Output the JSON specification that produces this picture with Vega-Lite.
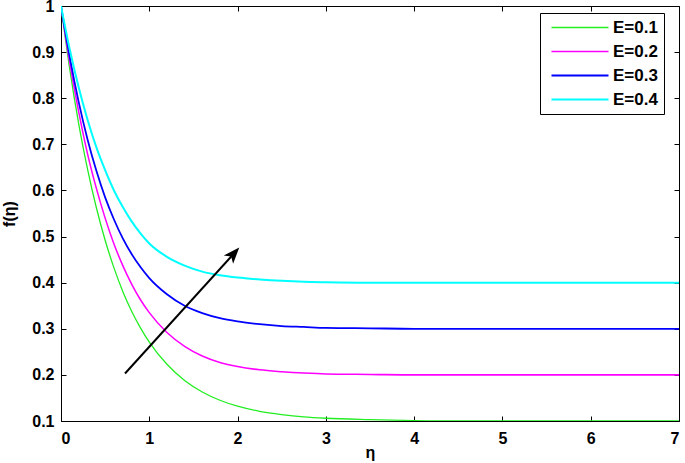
{
  "$schema": "https://vega.github.io/schema/vega-lite/v6.json",
  "width": 618,
  "height": 415,
  "autosize": {"type": "none"},
  "padding": {"left": 61, "top": 6, "right": 6, "bottom": 42},
  "background": "white",
  "config": {
    "view": {"stroke": "#000", "strokeWidth": 1},
    "font": "Liberation Sans",
    "axis": {"labelFont": "Liberation Sans", "labelFontWeight": "bold", "labelFontSize": 16, "labelColor": "#000", "titleFont": "Liberation Sans", "titleFontWeight": "bold", "titleFontSize": 16, "titleColor": "#000", "grid": false, "domain": false, "tickColor": "#000", "tickSize": -5, "tickWidth": 1}
  },
  "datasets": {
    "curves": [
      {"eta": 0, "f": 1, "s": "E=0.1"}, {"eta": 0.1, "f": 0.862, "s": "E=0.1"}, {"eta": 0.2, "f": 0.745, "s": "E=0.1"}, {"eta": 0.3, "f": 0.647, "s": "E=0.1"}, {"eta": 0.4, "f": 0.563, "s": "E=0.1"}, {"eta": 0.5, "f": 0.492, "s": "E=0.1"}, {"eta": 0.6, "f": 0.432, "s": "E=0.1"}, {"eta": 0.7, "f": 0.381, "s": "E=0.1"}, {"eta": 0.8, "f": 0.338, "s": "E=0.1"}, {"eta": 0.9, "f": 0.302, "s": "E=0.1"}, {"eta": 1.0, "f": 0.271, "s": "E=0.1"}, {"eta": 1.2, "f": 0.223, "s": "E=0.1"}, {"eta": 1.4, "f": 0.188, "s": "E=0.1"}, {"eta": 1.6, "f": 0.163, "s": "E=0.1"}, {"eta": 1.8, "f": 0.145, "s": "E=0.1"}, {"eta": 2.0, "f": 0.132, "s": "E=0.1"}, {"eta": 2.25, "f": 0.121, "s": "E=0.1"}, {"eta": 2.5, "f": 0.114, "s": "E=0.1"}, {"eta": 2.75, "f": 0.109, "s": "E=0.1"}, {"eta": 3, "f": 0.106, "s": "E=0.1"}, {"eta": 3.5, "f": 0.103, "s": "E=0.1"}, {"eta": 4, "f": 0.101, "s": "E=0.1"}, {"eta": 4.5, "f": 0.1, "s": "E=0.1"}, {"eta": 5, "f": 0.1, "s": "E=0.1"}, {"eta": 6, "f": 0.1, "s": "E=0.1"}, {"eta": 7, "f": 0.1, "s": "E=0.1"},
      {"eta": 0, "f": 1, "s": "E=0.2"}, {"eta": 0.1, "f": 0.876, "s": "E=0.2"}, {"eta": 0.2, "f": 0.771, "s": "E=0.2"}, {"eta": 0.3, "f": 0.68, "s": "E=0.2"}, {"eta": 0.4, "f": 0.605, "s": "E=0.2"}, {"eta": 0.5, "f": 0.54, "s": "E=0.2"}, {"eta": 0.6, "f": 0.484, "s": "E=0.2"}, {"eta": 0.7, "f": 0.437, "s": "E=0.2"}, {"eta": 0.8, "f": 0.397, "s": "E=0.2"}, {"eta": 0.9, "f": 0.363, "s": "E=0.2"}, {"eta": 1.0, "f": 0.335, "s": "E=0.2"}, {"eta": 1.2, "f": 0.292, "s": "E=0.2"}, {"eta": 1.4, "f": 0.262, "s": "E=0.2"}, {"eta": 1.6, "f": 0.241, "s": "E=0.2"}, {"eta": 1.8, "f": 0.227, "s": "E=0.2"}, {"eta": 2.0, "f": 0.218, "s": "E=0.2"}, {"eta": 2.25, "f": 0.211, "s": "E=0.2"}, {"eta": 2.5, "f": 0.207, "s": "E=0.2"}, {"eta": 2.75, "f": 0.204, "s": "E=0.2"}, {"eta": 3, "f": 0.202, "s": "E=0.2"}, {"eta": 3.5, "f": 0.201, "s": "E=0.2"}, {"eta": 4, "f": 0.2, "s": "E=0.2"}, {"eta": 4.5, "f": 0.2, "s": "E=0.2"}, {"eta": 5, "f": 0.2, "s": "E=0.2"}, {"eta": 6, "f": 0.2, "s": "E=0.2"}, {"eta": 7, "f": 0.2, "s": "E=0.2"},
      {"eta": 0, "f": 1, "s": "E=0.3"}, {"eta": 0.1, "f": 0.888, "s": "E=0.3"}, {"eta": 0.2, "f": 0.792, "s": "E=0.3"}, {"eta": 0.3, "f": 0.711, "s": "E=0.3"}, {"eta": 0.4, "f": 0.643, "s": "E=0.3"}, {"eta": 0.5, "f": 0.585, "s": "E=0.3"}, {"eta": 0.6, "f": 0.537, "s": "E=0.3"}, {"eta": 0.7, "f": 0.496, "s": "E=0.3"}, {"eta": 0.8, "f": 0.462, "s": "E=0.3"}, {"eta": 0.9, "f": 0.434, "s": "E=0.3"}, {"eta": 1.0, "f": 0.41, "s": "E=0.3"}, {"eta": 1.2, "f": 0.375, "s": "E=0.3"}, {"eta": 1.4, "f": 0.35, "s": "E=0.3"}, {"eta": 1.6, "f": 0.334, "s": "E=0.3"}, {"eta": 1.8, "f": 0.323, "s": "E=0.3"}, {"eta": 2.0, "f": 0.316, "s": "E=0.3"}, {"eta": 2.25, "f": 0.31, "s": "E=0.3"}, {"eta": 2.5, "f": 0.306, "s": "E=0.3"}, {"eta": 2.75, "f": 0.304, "s": "E=0.3"}, {"eta": 3, "f": 0.302, "s": "E=0.3"}, {"eta": 3.5, "f": 0.301, "s": "E=0.3"}, {"eta": 4, "f": 0.3, "s": "E=0.3"}, {"eta": 4.5, "f": 0.3, "s": "E=0.3"}, {"eta": 5, "f": 0.3, "s": "E=0.3"}, {"eta": 6, "f": 0.3, "s": "E=0.3"}, {"eta": 7, "f": 0.3, "s": "E=0.3"},
      {"eta": 0, "f": 1, "s": "E=0.4"}, {"eta": 0.1, "f": 0.905, "s": "E=0.4"}, {"eta": 0.2, "f": 0.824, "s": "E=0.4"}, {"eta": 0.3, "f": 0.754, "s": "E=0.4"}, {"eta": 0.4, "f": 0.694, "s": "E=0.4"}, {"eta": 0.5, "f": 0.644, "s": "E=0.4"}, {"eta": 0.6, "f": 0.6, "s": "E=0.4"}, {"eta": 0.7, "f": 0.564, "s": "E=0.4"}, {"eta": 0.8, "f": 0.533, "s": "E=0.4"}, {"eta": 0.9, "f": 0.507, "s": "E=0.4"}, {"eta": 1.0, "f": 0.485, "s": "E=0.4"}, {"eta": 1.2, "f": 0.456, "s": "E=0.4"}, {"eta": 1.4, "f": 0.437, "s": "E=0.4"}, {"eta": 1.6, "f": 0.424, "s": "E=0.4"}, {"eta": 1.8, "f": 0.416, "s": "E=0.4"}, {"eta": 2.0, "f": 0.411, "s": "E=0.4"}, {"eta": 2.25, "f": 0.407, "s": "E=0.4"}, {"eta": 2.5, "f": 0.404, "s": "E=0.4"}, {"eta": 2.75, "f": 0.402, "s": "E=0.4"}, {"eta": 3, "f": 0.401, "s": "E=0.4"}, {"eta": 3.5, "f": 0.4, "s": "E=0.4"}, {"eta": 4, "f": 0.4, "s": "E=0.4"}, {"eta": 4.5, "f": 0.4, "s": "E=0.4"}, {"eta": 5, "f": 0.4, "s": "E=0.4"}, {"eta": 6, "f": 0.4, "s": "E=0.4"}, {"eta": 7, "f": 0.4, "s": "E=0.4"}
    ],
    "arrow": [{"x1": 0.725, "y1": 0.203, "x2": 1.951, "y2": 0.4616}]
  },
  "resolve": {"axis": {"x": "independent", "y": "independent"}},
  "layer": [
    {
      "data": {"name": "curves"},
      "mark": {"type": "line", "interpolate": "monotone", "clip": true},
      "encoding": {
        "x": {"field": "eta", "type": "quantitative", "scale": {"domain": [0, 7], "nice": false}, "axis": {"orient": "bottom", "values": [0, 1, 2, 3, 4, 5, 6, 7], "labelPadding": 14, "title": "η", "titleY": 36, "titleBaseline": "alphabetic"}},
        "y": {"field": "f", "type": "quantitative", "scale": {"domain": [0.1, 1], "nice": false, "zero": false}, "axis": {"orient": "left", "values": [0.1, 0.2, 0.3, 0.4, 0.5, 0.6, 0.7, 0.8, 0.9, 1], "format": "~g", "labelPadding": 12, "title": "f(η)", "titlePadding": 14}},
        "color": {"field": "s", "type": "nominal", "scale": {"domain": ["E=0.1", "E=0.2", "E=0.3", "E=0.4"], "range": ["#22ee22", "#ff00ff", "#0000ff", "#00ffff"]},
          "legend": {"title": null, "orient": "none", "legendX": 479, "legendY": 7, "strokeColor": "#000", "fillColor": "#fff", "padding": 6, "symbolType": "M0,0H8.06", "symbolSize": 200, "symbolOffset": -3, "symbolStrokeWidth": 1.5, "labelFont": "Liberation Sans", "labelFontWeight": "bold", "labelFontSize": 17, "labelColor": "#000", "rowPadding": 6, "labelOffset": 53}},
        "strokeWidth": {"field": "s", "type": "nominal", "scale": {"domain": ["E=0.1", "E=0.2", "E=0.3", "E=0.4"], "range": [1.3, 2, 2, 2]}, "legend": null}
      }
    },
    {
      "data": {"name": "arrow"},
      "mark": {"type": "rule", "color": "#000", "strokeWidth": 2},
      "encoding": {
        "x": {"field": "x1", "type": "quantitative", "axis": {"orient": "top", "values": [0, 1, 2, 3, 4, 5, 6, 7], "labels": false, "title": null}},
        "y": {"field": "y1", "type": "quantitative", "axis": {"orient": "right", "values": [0.1, 0.2, 0.3, 0.4, 0.5, 0.6, 0.7, 0.8, 0.9, 1], "labels": false, "title": null}},
        "x2": {"field": "x2"},
        "y2": {"field": "y2"}
      }
    },
    {
      "data": {"name": "arrow"},
      "mark": {"type": "point", "shape": "M0,-1L0.7,0.8L0,0.35L-0.7,0.8Z", "filled": true, "color": "#000", "size": 324, "angle": 42, "opacity": 1},
      "encoding": {
        "x": {"field": "x2", "type": "quantitative", "axis": null},
        "y": {"field": "y2", "type": "quantitative", "axis": null}
      }
    }
  ]
}
